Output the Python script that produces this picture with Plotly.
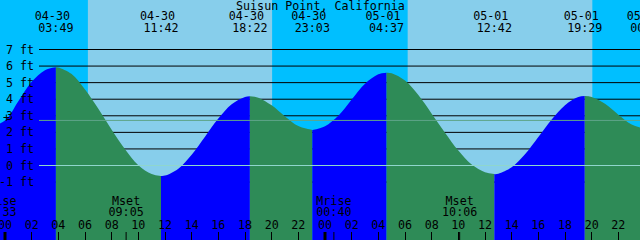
import plotly.graph_objects as go

STATION = "Suisun Point, California"
DAY_OFFSET = {"04-29": -24, "04-30": 0, "05-01": 24, "05-02": 48}

# Hourly tide heights (hours after 04-30 00:00, feet)
reading_hours = list(range(48))
reading_ft = [2.72, 3.88, 5.05, 5.75, 5.92, 5.52, 4.58, 3.42, 2.15, 0.98,
              0.02, -0.52, -0.61, -0.19, 0.65, 1.74, 2.83, 3.70, 4.14, 4.09,
              3.63, 2.96, 2.38, 2.15, 2.37, 3.00, 3.98, 4.93, 5.50, 5.57,
              5.13, 4.25, 3.13, 1.98, 0.90, 0.06, -0.40, -0.50, -0.11, 0.68,
              1.72, 2.78, 3.64, 4.13, 4.13, 3.72, 3.07, 2.48]

# High / low tide events (labelled along the top)
extreme_date = ["04-30", "04-30", "04-30", "04-30", "05-01", "05-01", "05-01", "05-02"]
extreme_time = ["03:49", "11:42", "18:22", "23:03", "04:37", "12:42", "19:29", "00:13"]
extreme_ft = [5.93, -0.63, 4.18, 2.14, 5.60, -0.52, 4.19, 2.16]

# previous low, just off the left edge
prior_low_stamp = "04-29 22:24"
prior_low_ft = 2.18

sunrise_stamp = ["04-30 06:13", "05-01 06:12"]
sunset_stamp = ["04-30 20:02", "05-01 20:03"]

moon_event = ["Mrise", "Mset", "Mrise", "Mset"]
moon_stamp = ["04-29 23:33", "04-30 09:05", "05-01 00:40", "05-01 10:06"]

tick_hours = list(range(0, 48, 2))
tick_labels = ["00", "02", "04", "06", "08", "10", "12", "14", "16", "18", "20", "22",
               "00", "02", "04", "06", "08", "10", "12", "14", "16", "18", "20", "22"]
midnight_hours = [0, 24]

ft_levels = [-1, 0, 1, 2, 3, 4, 5, 6, 7]
ft_labels = ["-1 ft", "0 ft", "1 ft", "2 ft", "3 ft", "4 ft", "5 ft", "6 ft", "7 ft"]
mean_level_ft = 2.72
datum_ft = 0


def to_hours(stamp):
    d, t = stamp.split()
    hh, mm = t.split(":")
    return DAY_OFFSET[d] + int(hh) + int(mm) / 60.0


extreme_hours = [to_hours(d + " " + t) for d, t in zip(extreme_date, extreme_time)]
prior_low_hours = to_hours(prior_low_stamp)

pts = sorted(list(zip(reading_hours, reading_ft)) + list(zip(extreme_hours, extreme_ft))
             + [(prior_low_hours, prior_low_ft)])
curve_t = [p[0] for p in pts]
curve_h = [p[1] for p in pts]

# ---------- layout constants ----------
W, H = 640, 240
X_RANGE = [-0.375, 47.625]
PX_PER_FT = 116 / 7.0
ZERO_ROW = 165.5
Y_RANGE = [(ZERO_ROW - H) / PX_PER_FT, ZERO_ROW / PX_PER_FT]

NIGHT = "#00BFFF"
DAY = "#87CEEB"
RISE = "#0000FF"
FALL = "#2E8B57"
MEAN_COLOR = "#5FA58A"
DATUM_COLOR = "#8FD6CC"
FONT = dict(family="DejaVu Sans Mono", size=11.7, color="black")

fig = go.Figure()

bounds = [prior_low_hours] + extreme_hours
base_y = Y_RANGE[0] - 2
for b0, b1 in zip(bounds[:-1], bounds[1:]):
    seg = [(t, h) for t, h in zip(curve_t, curve_h) if b0 - 1e-6 <= t <= b1 + 1e-6]
    st = [p[0] for p in seg]
    sh = [p[1] for p in seg]
    color = RISE if sh[-1] > sh[0] else FALL
    fig.add_trace(go.Scatter(x=[st[0], st[-1]], y=[base_y, base_y], mode="lines",
                             line=dict(width=0), hoverinfo="skip", showlegend=False))
    fig.add_trace(go.Scatter(x=st, y=sh, mode="lines", fill="tonexty", fillcolor=color,
                             line=dict(width=0, shape="spline", smoothing=1.0),
                             hoverinfo="skip", showlegend=False))

# text rows (pixel rows on a hidden y2 axis)
ROW_DATE, ROW_TIME = 17.5, 29.0
ROW_MOON, ROW_MOON_T, ROW_TICK = 201.7, 213.3, 225.7


def text_trace(xs, row, texts):
    return go.Scatter(x=xs, y=[row] * len(xs), yaxis="y2", mode="text", text=texts,
                      textposition="middle center", textfont=FONT,
                      hoverinfo="skip", showlegend=False, cliponaxis=True)


fig.add_trace(text_trace(extreme_hours, ROW_DATE, [d + "\u00a0" for d in extreme_date]))
fig.add_trace(text_trace(extreme_hours, ROW_TIME, extreme_time))
moon_hours = [to_hours(s) for s in moon_stamp]
fig.add_trace(text_trace(moon_hours, ROW_MOON, moon_event))
fig.add_trace(text_trace(moon_hours, ROW_MOON_T, [s.split()[1] for s in moon_stamp]))
fig.add_trace(text_trace(tick_hours, ROW_TICK, tick_labels))

shapes = []
for sr, ss in zip(sunrise_stamp, sunset_stamp):
    shapes.append(dict(type="rect", xref="x", yref="paper", x0=to_hours(sr), x1=to_hours(ss),
                       y0=0, y1=1, fillcolor=DAY, line=dict(width=0), layer="below"))
LINE_X0 = 39.0 / W
for v in ft_levels:
    shapes.append(dict(type="line", xref="paper", yref="y", x0=LINE_X0, x1=1, y0=v, y1=v,
                       line=dict(color="black", width=1), layer="below"))
shapes.append(dict(type="line", xref="paper", yref="y", x0=LINE_X0, x1=1,
                   y0=mean_level_ft, y1=mean_level_ft,
                   line=dict(color=MEAN_COLOR, width=1), layer="above"))
shapes.append(dict(type="line", xref="paper", yref="y", x0=LINE_X0, x1=1,
                   y0=datum_ft, y1=datum_ft,
                   line=dict(color=DATUM_COLOR, width=1), layer="above"))
TICK_TOP = 8.0 / H
for m in midnight_hours:
    shapes.append(dict(type="line", xref="x", yref="paper", x0=m, x1=m, y0=0, y1=TICK_TOP,
                       line=dict(color="black", width=3), layer="above"))
for mh in moon_hours:
    shapes.append(dict(type="line", xref="x", yref="paper", x0=mh, x1=mh, y0=0, y1=TICK_TOP,
                       line=dict(color="black", width=1), layer="above"))

annotations = [dict(text=STATION, xref="paper", yref="y2", x=0.5, y=5.5,
                    xanchor="center", yanchor="middle", showarrow=False, font=FONT)]
for v, lab in zip(ft_levels, ft_labels):
    annotations.append(dict(text=lab, xref="paper", yref="y", x=35.5 / W, y=v,
                            xanchor="right", yanchor="middle", showarrow=False, font=FONT))
annotations.append(dict(text="+", xref="paper", yref="y2", x=6.5 / W, y=118,
                        xanchor="center", yanchor="middle", showarrow=False, font=FONT))

fig.update_layout(
    width=W, height=H, margin=dict(l=0, r=0, t=0, b=0, pad=0),
    paper_bgcolor=NIGHT, plot_bgcolor=NIGHT, showlegend=False,
    shapes=shapes, annotations=annotations,
    xaxis=dict(range=X_RANGE, tickvals=tick_hours, ticks="inside", ticklen=8,
               tickwidth=1, tickcolor="black", showticklabels=False, showgrid=False,
               zeroline=False, showline=False, fixedrange=True),
    yaxis=dict(range=Y_RANGE, visible=False, fixedrange=True),
    yaxis2=dict(range=[H, 0], overlaying="y", visible=False, fixedrange=True),
)

fig.write_html("out.html", config={"displayModeBar": False})
